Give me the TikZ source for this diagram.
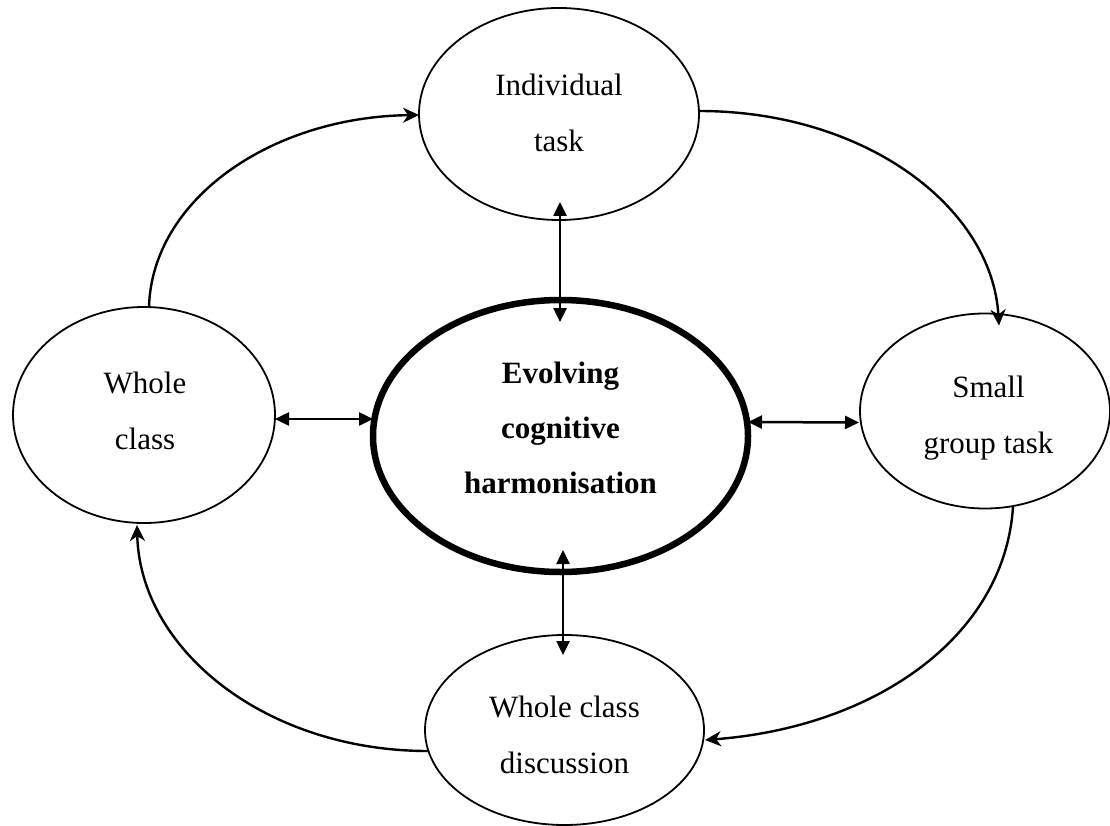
\documentclass[tikz,border=0pt]{standalone}
\usepackage{fontspec}
\setmainfont{Liberation Serif}
\usetikzlibrary{arrows.meta,shapes.geometric,calc}
\begin{document}
\begin{tikzpicture}[x=1pt,y=-1pt,
  bubble/.style={draw,ellipse,line width=1.8pt,inner sep=0pt,outer sep=0pt},
  corebubble/.style={draw,ellipse,line width=6.5pt,inner sep=0pt,outer sep=0pt},
  caption/.style={align=center,inner sep=0pt,font=\fontsize{31}{56}\selectfont},
  flow/.style={line width=2.4pt,-{Stealth[length=16pt,width=15pt,inset=5pt]}},
  link/.style={line width=2.5pt,{Triangle[length=14pt,width=13pt]}-{Triangle[length=14pt,width=13pt]}}
]
\fill[white] (0,0) rectangle (1110,826);
\useasboundingbox (0,0) rectangle (1110,826);

% the four activity phases and the central idea
\node[bubble, minimum width=280pt, minimum height=212pt] (ind) at (559,114) {};
\node[bubble, minimum width=262pt, minimum height=216pt] (wc)  at (144,415) {};
\node[bubble, minimum width=250pt, minimum height=195pt] (sg)  at (985,411) {};
\node[bubble, minimum width=279pt, minimum height=190pt] (bot) at (564.5,730) {};
\node[corebubble, minimum width=375pt, minimum height=272pt] (core) at (560.5,436) {};

% labels
\node[caption] (indtxt)  at (559,113)     {Individual\\task};
\node[caption] (wctxt)   at (145,411)     {Whole\\class};
\node[caption] (sgtxt)   at (988.5,418.5) {Small\\group task};
\node[caption] (bottxt)  at (564.5,735)   {Whole class\\discussion};
\node[caption, font=\fontsize{31}{55}\selectfont\bfseries] (coretxt) at (560.5,427.5)
  {Evolving\\cognitive\\harmonisation};

% two-way links with the centre
\draw[link] ($(ind.south)+(1,-18)$) -- ($(core.north)+(-0.5,22)$);
\draw[link] ($(core.south)+(2.5,-22)$) -- ($(bot.north)+(-1.5,20)$);
\draw[link] ($(wc.east)+(0,4)$) -- ($(core.west)+(0,-17)$);
\draw[link] ($(core.east)+(0,-14)$) -- ($(sg.west)+(-1,11.5)$);

% the outer cycle
\draw[flow] ($(wc.north)+(5,0)$) .. controls (152,200) and (270,117) .. ($(ind.west)+(0,1)$);
\draw[flow] ($(ind.east)+(0,-3)$) .. controls (865,111) and (992,207) .. ($(sg.north)+(14,12)$);
\draw[flow] ($(sg.south)+(28,-2)$) .. controls (1005,636) and (876,727) .. ($(bot.east)+(1,10)$);
\draw[flow] ($(bot.west)+(3,21)$) .. controls (266,751) and (140,650) .. ($(wc.south)+(-7,2)$);
\end{tikzpicture}
\end{document}
